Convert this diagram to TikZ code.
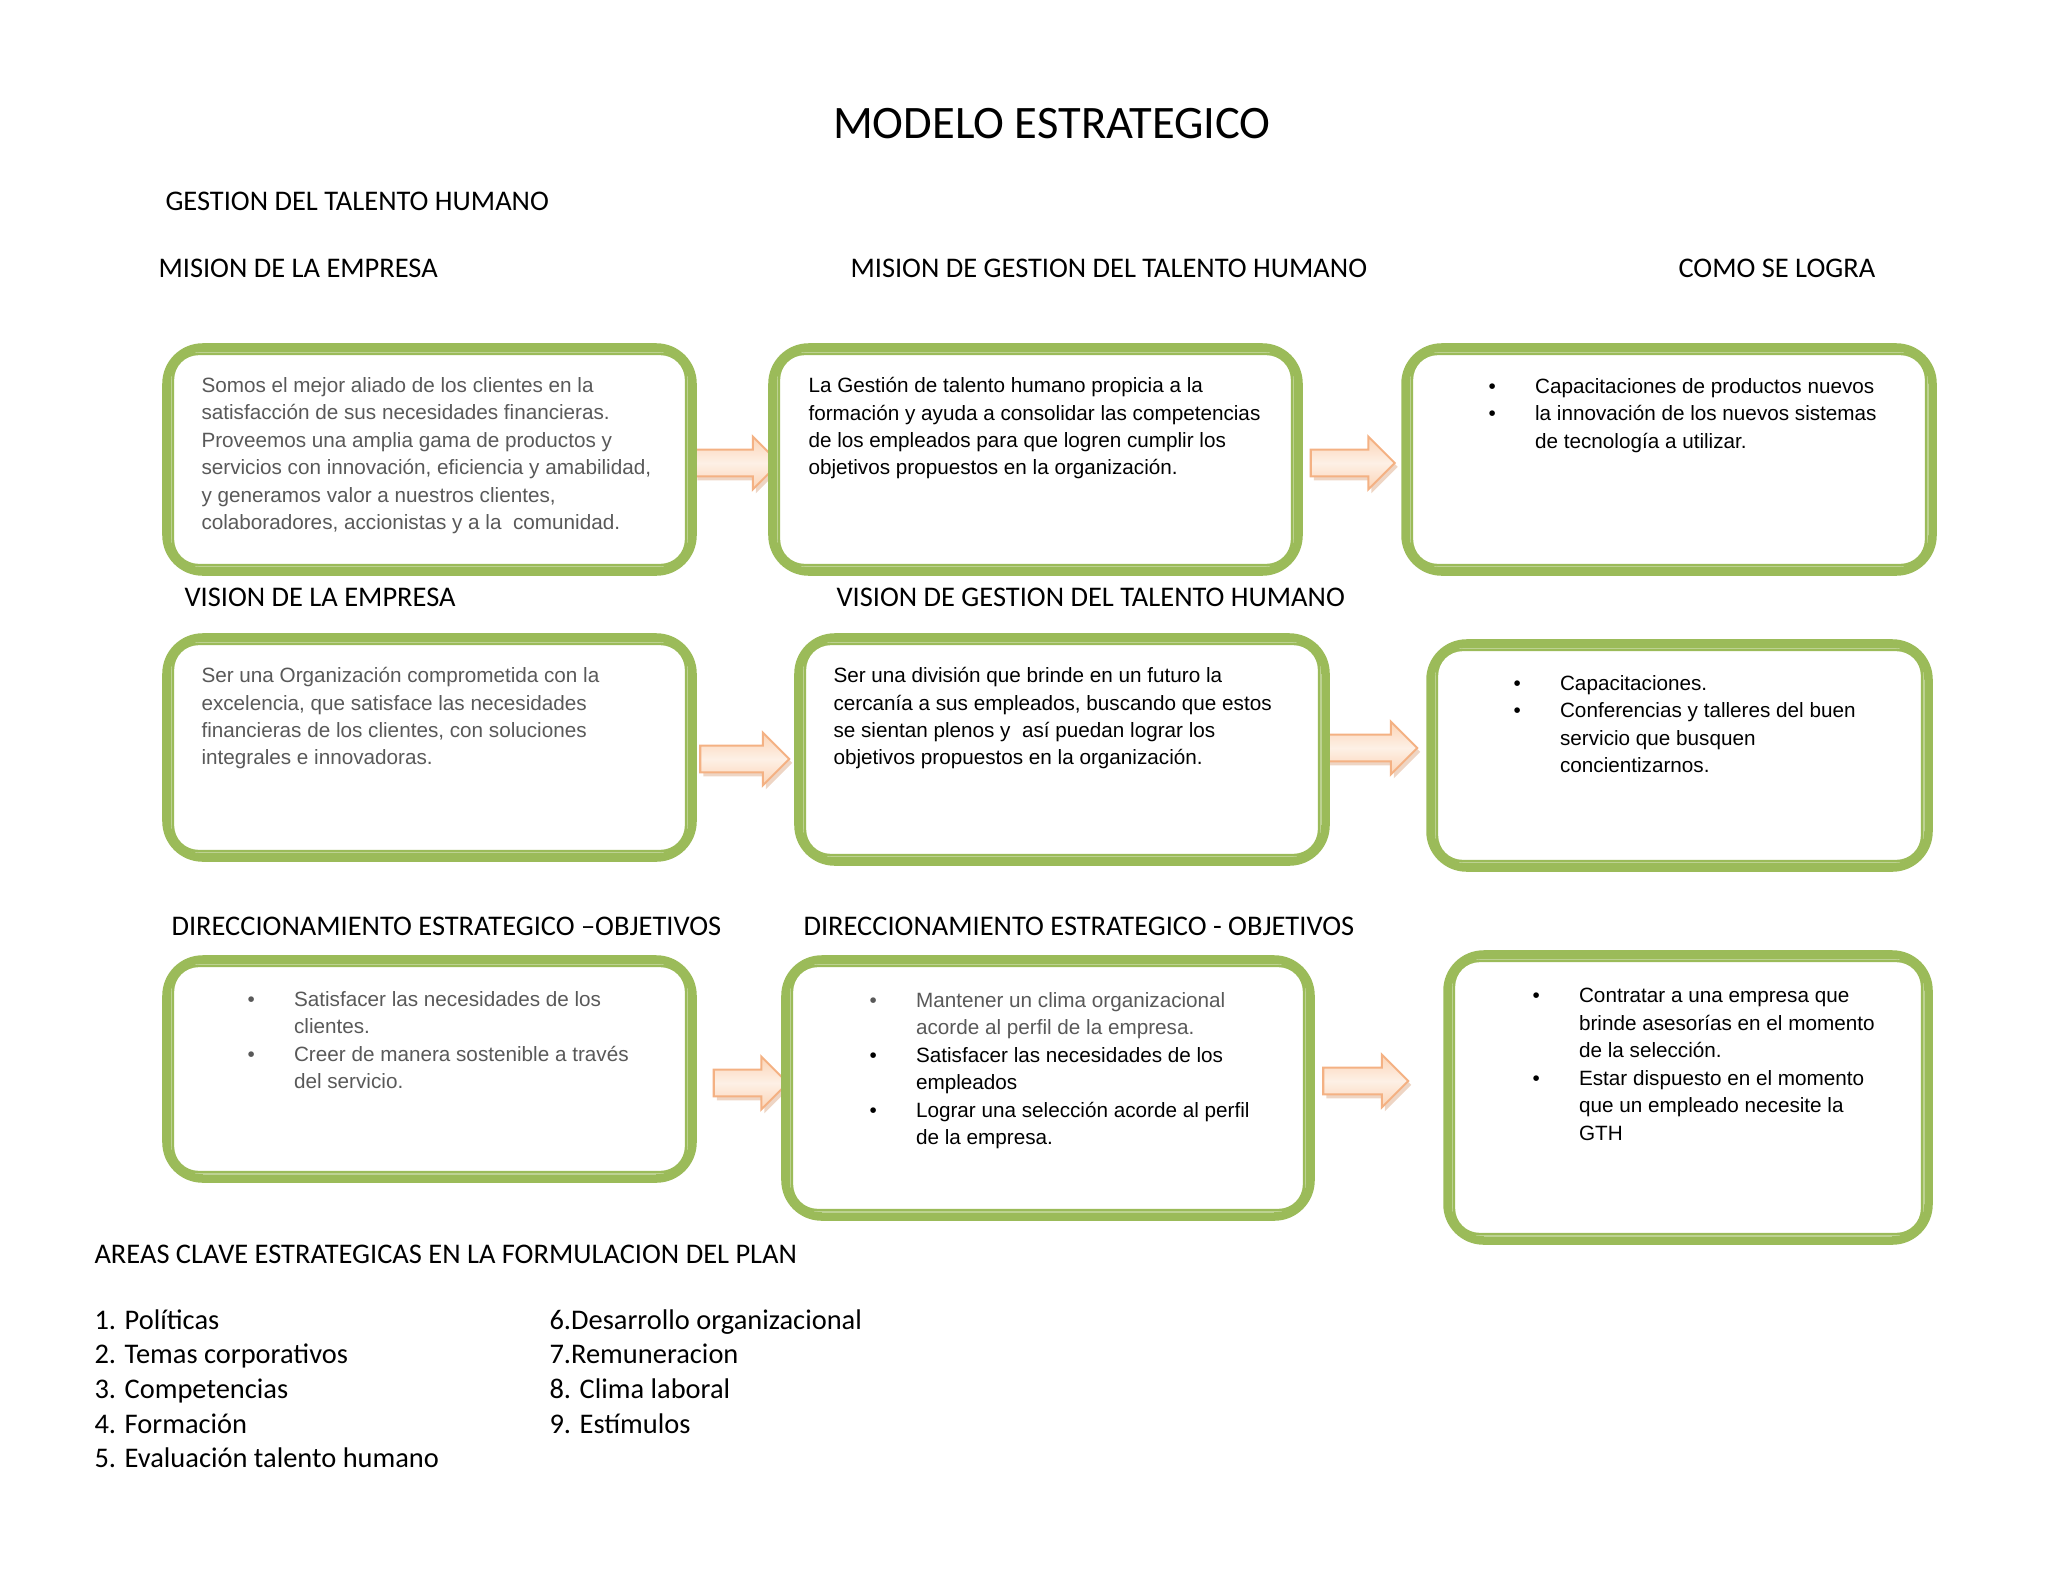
\documentclass[tikz,border=0pt]{standalone}
\usepackage{fontspec}
\setmainfont{Carlito}
\newfontfamily\arialfont{Liberation Sans}
\usetikzlibrary{calc, shapes.arrows, shadows, backgrounds}
\definecolor{cgreen}{HTML}{9BBB59}
\definecolor{cgreytext}{HTML}{595959}
\definecolor{corange}{HTML}{F4B183}
\definecolor{cpeach}{HTML}{FBD4B6}
\definecolor{cshadow}{HTML}{D9A27C}
\newcommand{\bl}[1]{\makebox[18pt][l]{\textbullet}#1}
\newcommand{\cl}[1]{\hspace*{18pt}#1}
\tikzset{
  gbox/.style 2 args={draw=cgreen, line width=3.3pt, fill=white, rounded corners=14pt, inner sep=0pt,
    minimum width=#1*0.3867pt, minimum height=#2*0.3867pt},
  ginner/.style={draw=cgreen, line width=1.1pt, rounded corners=10pt},
  barrow/.style={single arrow, draw=corange, line width=0.8pt, inner sep=0pt,
    text height=4.8pt, text depth=4.8pt,
    top color=cpeach, bottom color=cpeach, middle color=cpeach!35,
    minimum height=#1*0.3867pt, minimum width=19.5pt, single arrow head extend=5pt,
    drop shadow={shadow xshift=1.2pt, shadow yshift=-1.5pt, fill=cshadow, opacity=0.45}},
  head/.style={anchor=base west, inner sep=0pt, font=\fontsize{11pt}{13.4pt}\selectfont},
  btext/.style={anchor=north west, align=left, inner sep=0pt, font=\arialfont\fontsize{8pt}{10.6pt}\selectfont},
}

\begin{document}
\begin{tikzpicture}[x=0.3867pt, y=-0.3867pt]
  \path[use as bounding box] (0,0) rectangle (2048,1582);

  % headings
  \node[anchor=base, inner sep=0pt, font=\fontsize{18pt}{22pt}\selectfont] (title) at (1052,138) {MODELO ESTRATEGICO};
  \node[head] (hgth) at (165,210) {GESTION DEL TALENTO HUMANO};
  \node[head] (hmis1) at (158,277) {MISION DE LA EMPRESA};
  \node[head] (hmis2) at (850,277) {MISION DE GESTION DEL TALENTO HUMANO};
  \node[head] (hcomo) at (1678,277) {COMO SE LOGRA};
  \node[head] (hvis1) at (184,606) {VISION DE LA EMPRESA};
  \node[head] (hvis2) at (836,606) {VISION DE GESTION DEL TALENTO HUMANO};
  \node[head] (hdir1) at (171,935) {DIRECCIONAMIENTO ESTRATEGICO –OBJETIVOS};
  \node[head] (hdir2) at (803,935) {DIRECCIONAMIENTO ESTRATEGICO - OBJETIVOS};
  \node[head] (hareas) at (94,1263) {AREAS CLAVE ESTRATEGICAS EN LA FORMULACION DEL PLAN};

  % boxes
  \node[gbox={526}{224}] (b1) at (429.5,459.5) {};
  \node[gbox={526}{224}] (b2) at (1035.5,459.5) {};
  \node[gbox={527}{224}] (b3) at (1669,459.5) {};
  \node[gbox={526}{220}] (b4) at (429.5,747.5) {};
  \node[gbox={527}{224}] (b5) at (1062,749.5) {};
  \node[gbox={498}{224}] (b6) at (1679.5,755.5) {};
  \node[gbox={526}{219}] (b7) at (429.5,1069) {};
  \node[gbox={525}{257}] (b8) at (1048,1088) {};
  \node[gbox={481}{286}] (b9) at (1688,1097.5) {};
  \foreach \i in {1,...,9}
    \draw[ginner] ($(b\i.south west)+(10.5,-10.5)$) rectangle ($(b\i.north east)+(-10.5,10.5)$);

  % arrows between boxes
  \begin{scope}[on background layer]
    \node[barrow=85] (a1) at (730,463) {};
    \node[barrow=84] (a2) at (1346,463) {};
    \node[barrow=89] (a3) at (738,759) {};
    \node[barrow=91] (a4) at (1365,748) {};
    \node[barrow=74] (a5) at (744,1083) {};
    \node[barrow=85] (a6) at (1359,1081) {};
  \end{scope}

  % box texts
  \node[btext, text=cgreytext] (t1) at (201,377) {Somos el mejor aliado de los clientes en la\\
    satisfacción de sus necesidades financieras.\\ Proveemos una amplia gama de productos y\\
    servicios con innovación, eficiencia y amabilidad,\\ y generamos valor a nuestros clientes,\\
    colaboradores, accionistas y a la \ comunidad.};
  \node[btext] (t2) at (808,377) {La Gestión de talento humano propicia a la\\
    formación y ayuda a consolidar las competencias\\ de los empleados para que logren cumplir los\\
    objetivos propuestos en la organización.};
  \node[btext] (t3) at (1488,378) {\bl{Capacitaciones de productos nuevos}\\
    \bl{la innovación de los nuevos sistemas}\\ \cl{de tecnología a utilizar.}};
  \node[btext, text=cgreytext] (t4) at (201,667) {Ser una Organización comprometida con la\\
    excelencia, que satisface las necesidades\\ financieras de los clientes, con soluciones\\
    integrales e innovadoras.};
  \node[btext] (t5) at (833,667) {Ser una división que brinde en un futuro la\\
    cercanía a sus empleados, buscando que estos\\ se sientan plenos y \ así puedan lograr los\\
    objetivos propuestos en la organización.};
  \node[btext] (t6) at (1513,675) {\bl{Capacitaciones.}\\
    \bl{Conferencias y talleres del buen}\\ \cl{servicio que busquen}\\ \cl{concientizarnos.}};
  \node[btext, text=cgreytext] (t7) at (247,991) {\bl{Satisfacer las necesidades de los}\\ \cl{clientes.}\\
    \bl{Creer de manera sostenible a través}\\ \cl{del servicio.}};
  \node[btext] (t8) at (869,992) {{\color{cgreytext}\bl{Mantener un clima organizacional}}\\
    {\color{cgreytext}\cl{acorde al perfil de la empresa.}}\\
    \bl{Satisfacer las necesidades de los}\\ \cl{empleados}\\
    \bl{Lograr una selección acorde al perfil}\\ \cl{de la empresa.}};
  \node[btext] (t9) at (1532,988) {\bl{Contratar a una empresa que}\\ \cl{brinde asesorías en el momento}\\
    \cl{de la selección.}\\ \bl{Estar dispuesto en el momento}\\ \cl{que un empleado necesite la}\\ \cl{GTH}};

  % key areas
  \foreach \t [count=\i] in {1. Políticas, 2. Temas corporativos, 3. Competencias, 4. Formación, 5. Evaluación talento humano}
    \node[head] (l\i) at (94,{1294.3+34.7*\i}) {\t};
  \foreach \t [count=\i] in {6.Desarrollo organizacional, 7.Remuneracion, 8. Clima laboral, 9. Estímulos}
    \node[head] (r\i) at (549,{1294.3+34.7*\i}) {\t};
\end{tikzpicture}
\end{document}
